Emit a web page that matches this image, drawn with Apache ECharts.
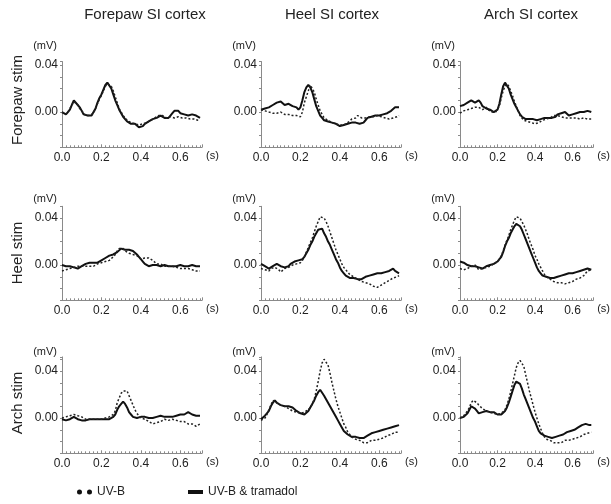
<!DOCTYPE html>
<html>
<head>
<meta charset="utf-8">
<script src="https://cdn.jsdelivr.net/npm/echarts@6/dist/echarts.min.js"></script>
<style>
  html, body { margin: 0; padding: 0; background: #fff; }
  #chart { width: 611px; height: 504px; }
</style>
</head>
<body>
<div id="chart"></div>
<script>
// time base of every trace, 0 to 0.70 s in 10 ms steps
const TIME = Array.from({ length: 71 }, (_, i) => +(i * 0.01).toFixed(2))

const COL_TITLES = ['Forepaw SI cortex', 'Heel SI cortex', 'Arch SI cortex']
const ROW_TITLES = ['Forepaw stim', 'Heel stim', 'Arch stim']
const X_TICKS = [0.0, 0.2, 0.4, 0.6]
const Y_TICKS = [0.00, 0.04]

// traces, in µV (1/1000 mV); key = stim + cortex
// F = forepaw, H = heel, A = arch
const UVB_FF = [0,-1,-2,0,3,6,9,9,6,3, 1,-1,-3,-4,-3,-2,-1,3,7,11, 14,18,22,24,24,22,18,13,8,3, 0,-3,-5,-7,-8,-9,-9,-10,-10,-11, -11,-10,-10,-9,-8,-7,-6,-5,-4,-3, -3,-3,-4,-5,-5,-4,-4,-5,-5,-4, -5,-5,-5,-5,-5,-6,-6,-6,-6,-7, -7]
const TRAM_FF = [0,-1,-2,0,2,6,10,9,6,4, 1,-2,-3,-3,-3,-3,-2,3,8,12, 15,19,23,25,24,20,15,10,6,2, -1,-4,-6,-8,-9,-10,-10,-10,-11,-13, -14,-12,-10,-9,-8,-7,-6,-5,-5,-4, -3,-4,-5,-5,-5,-3,-1,1,2,1, -1,-2,-2,-3,-3,-2,-2,-3,-3,-4, -5]

const UVB_FH = [2,1,1,0,0,0,-1,-1,-1,-1, 0,-1,-2,-2,-2,-2,-3,-3,-3,-4, -4,0,8,13,18,23,22,17,11,6, 1,-2,-5,-6,-7,-8,-9,-10,-10,-11, -11,-11,-11,-10,-9,-8,-6,-5,-5,-3, -4,-5,-5,-5,-5,-4,-4,-4,-3,-3, -3,-4,-5,-5,-6,-6,-5,-5,-4,-4, -3]
const TRAM_FH = [2,3,3,4,4,5,6,7,8,8, 9,8,6,6,7,6,5,5,4,2, 4,10,17,21,23,21,17,11,5,1, -3,-5,-7,-8,-8,-9,-9,-10,-10,-11, -12,-12,-11,-11,-10,-10,-9,-10,-9,-10, -10,-10,-9,-7,-5,-4,-4,-4,-3,-3, -3,-2,-2,-1,-1,0,1,2,4,4, 4]

const UVB_FA = [-1,0,1,1,2,2,3,3,4,4, 4,4,2,3,4,2,1,0,-1,0, 1,5,12,18,22,24,22,18,14,9, 5,1,-3,-5,-7,-8,-8,-9,-9,-10, -10,-10,-9,-8,-7,-6,-6,-5,-5,-4, -3,-3,-3,-4,-4,-5,-5,-5,-5,-5, -5,-5,-5,-5,-6,-5,-5,-6,-6,-6, -6]
const TRAM_FA = [5,5,6,7,8,9,10,9,8,8, 10,8,5,4,3,2,2,1,0,-1, 2,7,15,22,25,24,20,15,11,7, 4,1,-2,-4,-5,-6,-6,-6,-6,-6, -7,-7,-6,-6,-5,-5,-5,-5,-5,-5, -5,-4,-2,-1,-1,0,0,-1,-3,-3, -2,-1,-1,0,0,0,0,1,1,0, 0]

const UVB_HF = [-5,-5,-4,-4,-3,-3,-2,-2,-1,-1, -1,-1,-1,-1,-1,0,-1,0,1,1, 2,2,3,3,4,5,7,9,12,14, 15,14,12,11,10,10,9,8,8,7, 5,6,6,7,6,5,4,3,1,1, 1,0,-1,-1,-1,-1,-1,-2,-2,-2, -3,-3,-3,-3,-3,-4,-4,-4,-5,-5, -5]
const TRAM_HF = [0,0,-1,-1,-1,-1,-2,-2,-3,-2, -1,0,1,2,2,2,2,2,2,3, 4,5,6,7,8,8,9,10,11,12, 14,14,13,13,13,12,12,11,9,7, 5,3,1,0,-1,-1,0,-1,0,-1, -1,0,0,-1,-1,0,-1,0,-1,0, 0,-1,-1,0,-1,0,0,-1,-1,-1, -1]

const UVB_HH = [-3,-3,-4,-5,-5,-3,-2,-2,-3,-4, -6,-5,-3,-2,-2,-1,0,1,1,2, 2,4,7,11,15,19,23,28,33,37, 41,42,40,37,33,28,23,18,13,9, 5,1,-2,-4,-6,-8,-9,-10,-11,-12, -13,-14,-14,-15,-16,-16,-17,-18,-19,-19, -18,-17,-16,-15,-14,-13,-12,-11,-10,-10, -9]
const TRAM_HH = [1,0,-1,-2,-3,-2,-1,0,1,0, -1,-2,-2,-1,-1,1,2,3,3,4, 4,5,7,10,13,17,20,24,27,30, 31,31,27,24,20,17,13,9,5,2, -2,-5,-7,-9,-10,-11,-11,-11,-11,-12, -12,-12,-11,-10,-9,-9,-8,-8,-7,-7, -7,-7,-7,-6,-6,-5,-4,-3,-5,-6, -7]

const UVB_HA = [-3,-3,-4,-4,-3,-2,-1,-1,0,-2, -4,-4,-3,-3,-2,-1,-1,0,1,2, 3,5,8,12,17,21,25,30,34,38, 41,42,40,37,34,30,26,21,17,13, 8,5,1,-2,-5,-8,-10,-11,-12,-13, -14,-14,-15,-15,-15,-15,-16,-15,-15,-15, -14,-13,-12,-12,-11,-10,-9,-7,-5,-5, -4]
const TRAM_HA = [3,3,2,1,0,0,-1,-1,-1,-1, -2,-2,-3,-2,-1,-1,0,1,1,2, 3,5,7,11,16,20,23,27,30,33, 35,35,33,30,26,22,18,14,10,6, 2,-2,-5,-7,-9,-10,-10,-11,-11,-11, -11,-11,-10,-10,-9,-9,-8,-8,-7,-7, -7,-7,-6,-6,-5,-5,-4,-3,-3,-3, -4]

const UVB_AF = [0,1,1,2,2,2,3,3,2,2, 1,0,-1,-1,-1,-1,-1,-1,-1,-1, -1,-1,0,0,1,2,3,6,13,17, 21,23,24,23,19,15,11,7,4,2, 0,-1,-1,-2,-3,-4,-5,-4,-4,-3, -3,-2,-1,-1,-2,-2,-1,-2,-2,-3, -3,-3,-3,-4,-5,-5,-5,-6,-7,-6, -5]
const TRAM_AF = [-1,-1,-2,-1,-1,0,1,0,-1,-1, -2,-2,-2,-1,-1,-1,-1,-1,-1,-1, -1,-2,-1,-1,-1,0,1,3,7,10, 12,14,12,9,5,3,1,0,0,0, 1,1,1,0,0,0,0,1,1,2, 2,1,1,1,1,1,1,2,2,3, 3,3,3,4,5,4,3,2,2,2, 2]

const UVB_AH = [-2,-1,0,3,7,11,15,15,13,12, 11,11,10,9,8,7,6,6,5,5, 4,4,5,6,7,9,12,16,23,31, 40,47,50,49,45,38,30,23,16,10, 5,0,-5,-8,-12,-14,-16,-17,-18,-19, -19,-20,-21,-21,-21,-20,-19,-19,-19,-18, -18,-18,-17,-16,-15,-15,-14,-13,-12,-12, -12]
const TRAM_AH = [-1,-2,2,4,6,10,13,15,13,12, 11,11,10,10,10,10,9,8,6,5, 4,4,3,4,6,9,12,15,19,22, 24,23,19,16,13,10,7,4,1,-2, -5,-8,-11,-12,-14,-15,-16,-16,-16,-17, -17,-17,-17,-16,-15,-14,-13,-13,-12,-12, -11,-11,-10,-10,-9,-9,-8,-8,-7,-7, -6]

const UVB_AA = [0,1,2,4,6,9,13,15,14,13, 11,10,8,7,6,5,5,4,4,4, 3,4,4,5,7,11,16,22,29,36, 43,47,49,49,44,37,30,23,17,11, 5,0,-5,-9,-13,-16,-18,-19,-19,-20, -21,-21,-21,-21,-21,-20,-19,-19,-19,-18, -18,-17,-17,-16,-16,-15,-14,-13,-13,-12, -12]
const TRAM_AA = [0,0,1,2,4,7,10,11,8,6, 4,4,5,6,6,6,5,5,5,4, 3,3,3,4,6,9,13,18,23,28, 31,32,29,25,20,16,12,8,4,0, -3,-7,-11,-13,-14,-15,-16,-16,-17,-17, -16,-16,-16,-15,-15,-14,-13,-12,-11,-11, -10,-10,-9,-8,-7,-6,-5,-5,-5,-6, -6]

// [row][col] -> [UV-B, UV-B & tramadol]
const PANELS = [
  [[UVB_FF, TRAM_FF], [UVB_FH, TRAM_FH], [UVB_FA, TRAM_FA]],
  [[UVB_HF, TRAM_HF], [UVB_HH, TRAM_HH], [UVB_HA, TRAM_HA]],
  [[UVB_AF, TRAM_AF], [UVB_AH, TRAM_AH], [UVB_AA, TRAM_AA]]
]

const FONT = '"Liberation Sans", Arial, Helvetica, sans-serif'
const TEXT = '#222'
const AXIS = '#8a8a8a'

// layout: 47 px per 0.04 mV on every panel
const COL_LEFT = [62, 261, 460]
const COL_TITLE_X = [145, 332, 531]
const ROW_LAYOUT = [
  { top: 61.5, height: 85.8, max: 0.043, nameGap: 15.5, labelY: 100 },
  { top: 206.3, height: 94.0, max: 0.050, nameGap: 7, labelY: 253 },
  { top: 356.9, height: 96.4, max: 0.052, nameGap: 5, labelY: 403 }
]

const toPairs = (arr) => TIME.map((t, i) => [t, arr[i] / 1000])
const near = (v, list) => list.some(x => Math.abs(v - x) < 1e-6)

const grid = []
const xAxis = []
const yAxis = []
const series = []

ROW_LAYOUT.forEach((row, r) => {
  COL_LEFT.forEach((left, c) => {
    const idx = grid.length
    grid.push({ left: left, top: row.top, width: 140, height: row.height })

    xAxis.push({
      type: 'value',
      gridIndex: idx,
      min: 0,
      max: 0.71,
      interval: 0.2,
      name: '(s)',
      nameLocation: 'end',
      nameGap: 4,
      nameTextStyle: { fontFamily: FONT, fontSize: 11, color: TEXT, verticalAlign: 'top', padding: [3, 0, 0, 0] },
      axisLine: { onZero: false, lineStyle: { color: AXIS, width: 1 } },
      axisTick: { inside: true, length: 3, lineStyle: { color: AXIS } },
      minorTick: { show: true, splitNumber: 10, length: 2, lineStyle: { color: AXIS } },
      splitLine: { show: false },
      axisLabel: {
        margin: 4,
        fontFamily: FONT,
        fontSize: 12,
        color: TEXT,
        showMaxLabel: false,
        formatter: v => near(v, X_TICKS) ? v.toFixed(1) : ''
      }
    })

    yAxis.push({
      type: 'value',
      gridIndex: idx,
      min: -0.03,
      max: row.max,
      interval: 0.01,
      name: '(mV)',
      nameLocation: 'end',
      nameGap: row.nameGap,
      nameTextStyle: { fontFamily: FONT, fontSize: 11, color: TEXT, align: 'right', verticalAlign: 'middle', padding: [0, 5, 0, 0] },
      axisLine: { show: true, onZero: false, lineStyle: { color: AXIS, width: 1 } },
      axisTick: { show: true, length: 2, lineStyle: { color: AXIS } },
      splitLine: { show: false },
      axisLabel: {
        margin: 4,
        fontFamily: FONT,
        fontSize: 12,
        color: TEXT,
        formatter: v => near(v, Y_TICKS) ? v.toFixed(2) : ''
      }
    })

    const [uvb, tram] = PANELS[r][c]
    series.push({
      name: 'UV-B',
      type: 'line',
      xAxisIndex: idx,
      yAxisIndex: idx,
      data: toPairs(uvb),
      showSymbol: false,
      silent: true,
      itemStyle: { color: '#111' },
      lineStyle: { color: '#222', width: 1.5, type: [2, 2] },
      z: 3
    })
    series.push({
      name: 'UV-B & tramadol',
      type: 'line',
      xAxisIndex: idx,
      yAxisIndex: idx,
      data: toPairs(tram),
      showSymbol: false,
      silent: true,
      itemStyle: { color: '#111' },
      lineStyle: { color: '#111', width: 2 },
      z: 2
    })
  })
})

const title = COL_TITLES.map((text, c) => ({
  text: text,
  left: COL_TITLE_X[c],
  top: 7,
  padding: 0,
  textAlign: 'center',
  textStyle: { fontFamily: FONT, fontSize: 15, fontWeight: 'normal', color: TEXT }
}))

const graphic = ROW_TITLES.map((text, r) => ({
  type: 'text',
  x: 18,
  y: ROW_LAYOUT[r].labelY,
  rotation: Math.PI / 2,
  style: { text: text, fontFamily: FONT, fontSize: 15, fill: TEXT, align: 'center', verticalAlign: 'middle' }
}))

const legendBase = {
  top: 486,
  padding: 0,
  itemWidth: 15,
  itemHeight: 5,
  itemGap: 8,
  selectedMode: false,
  textStyle: { fontFamily: FONT, fontSize: 12, color: TEXT, padding: [0, 0, 0, 0] },
  itemStyle: { color: '#111', borderWidth: 0 }
}

const option = {
  animation: false,
  backgroundColor: '#fff',
  title: title,
  graphic: graphic,
  legend: [
    Object.assign({}, legendBase, {
      left: 77,
      data: [{ name: 'UV-B', icon: 'path://M0,2a2,2 0 1,0 4,0a2,2 0 1,0 -4,0M8,2a2,2 0 1,0 4,0a2,2 0 1,0 -4,0' }]
    }),
    Object.assign({}, legendBase, {
      left: 188,
      itemHeight: 4,
      data: [{ name: 'UV-B & tramadol', icon: 'rect' }]
    })
  ],
  grid: grid,
  xAxis: xAxis,
  yAxis: yAxis,
  series: series
}

const chart = echarts.init(document.getElementById('chart'), null, { renderer: 'canvas' })
chart.setOption(option)
</script>
</body>
</html>
